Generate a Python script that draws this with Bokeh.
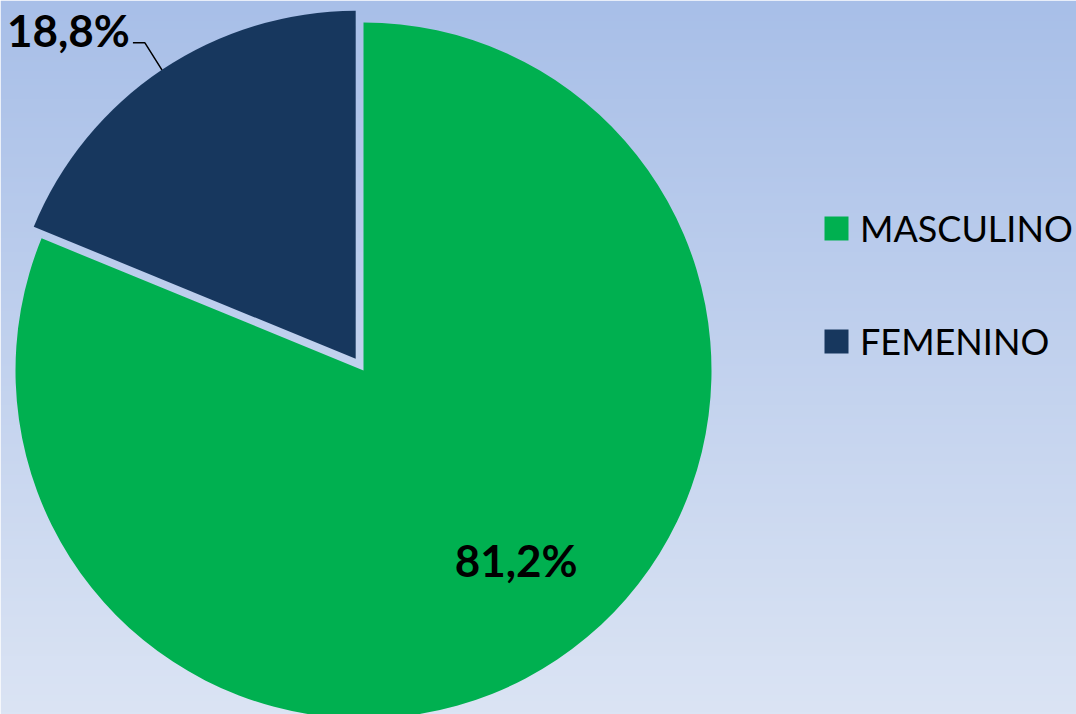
import numpy as np
from bokeh.plotting import figure
from bokeh.models import Range1d, Legend, LegendItem
from bokeh.core.properties import value
from bokeh.embed import file_html
from bokeh.resources import INLINE

# ---- data ----
categories = ["MASCULINO", "FEMENINO"]
shares = [81.2, 18.8]
labels = ["81,2%", "18,8%"]
colors = ["#00B050", "#17375E"]

W, H = 1076, 714
p = figure(width=W, height=H, x_range=Range1d(0, W), y_range=Range1d(0, H),
           output_backend="svg", toolbar_location=None, min_border=0)
p.axis.visible = False
p.grid.visible = False
p.outline_line_color = None
p.background_fill_color = None
p.border_fill_color = "#c4d2ec"

# background vertical gradient
top = np.array([168, 191, 232])
bot = np.array([219, 228, 244])
n = 256
t = np.linspace(0, 1, n)[:, None]  # row 0 = bottom
cols = (bot * (1 - t) + top * t).astype(np.uint32)
img = np.empty((n, 1), dtype=np.uint32)
view = img.view(dtype=np.uint8).reshape((n, 1, 4))
view[:, 0, 0] = cols[:, 0]
view[:, 0, 1] = cols[:, 1]
view[:, 0, 2] = cols[:, 2]
view[:, 0, 3] = 255
p.image_rgba(image=[img], x=0, y=0, dw=W, dh=H)

# pie geometry
cx, cy, R = 363, 344, 348
explode = 14
fr = np.array(shares) / sum(shares)
# FEMENINO starts at 12 o'clock going anticlockwise, MASCULINO fills the rest
f_start = np.pi / 2
f_end = f_start + 2 * np.pi * fr[1]
f_mid = (f_start + f_end) / 2
fx = cx + explode * np.cos(f_mid)
fy = cy + explode * np.sin(f_mid)

m_start = f_end
m_end = np.pi / 2 + 2 * np.pi
m_mid = (m_start + m_end) / 2

p.wedge(x=cx, y=cy, radius=R, start_angle=m_start, end_angle=m_end,
        fill_color=colors[0], line_color=None, direction="anticlock")
p.wedge(x=fx, y=fy, radius=R, start_angle=f_start, end_angle=f_end,
        fill_color=colors[1], line_color=None, direction="anticlock")

# labels
font = value("Lato")
mr = 240
p.text(x=[cx + mr * np.cos(m_mid) + 19], y=[cy + mr * np.sin(m_mid) + 10], text=[labels[0]],
       text_font=font, text_font_style="bold", text_font_size="44px",
       text_align="center", text_baseline="middle", text_color="black")

# leader line for FEMENINO
ex = fx + R * np.cos(f_mid)
ey = fy + R * np.sin(f_mid)
lx = [ex, ex - 17, ex - 29]
ly = [ey, ey + 27, ey + 27]
p.line(x=lx, y=ly, line_color="black", line_width=1.5)
p.text(x=[lx[-1] - 3], y=[ly[-1] + 13], text=[labels[1]],
       text_font=font, text_font_style="bold", text_font_size="44px",
       text_align="right", text_baseline="middle", text_color="black")

# legend (proxy renderers placed outside the visible range)
r_m = p.quad(left=[-50], right=[-40], top=[-40], bottom=[-50], fill_color=colors[0], line_color=None)
r_f = p.quad(left=[-50], right=[-40], top=[-40], bottom=[-50], fill_color=colors[1], line_color=None)
legend = Legend(items=[LegendItem(label=categories[0], renderers=[r_m]),
                       LegendItem(label=categories[1], renderers=[r_f])],
                location=(821, 351), padding=0, margin=0, spacing=69,
                glyph_width=30, glyph_height=30, label_standoff=9,
                label_text_font="Lato", label_text_font_size="36px",
                label_text_color="black",
                border_line_color=None, background_fill_alpha=0)
p.add_layout(legend, "center")

open("out.html", "w").write(file_html(p, INLINE))
